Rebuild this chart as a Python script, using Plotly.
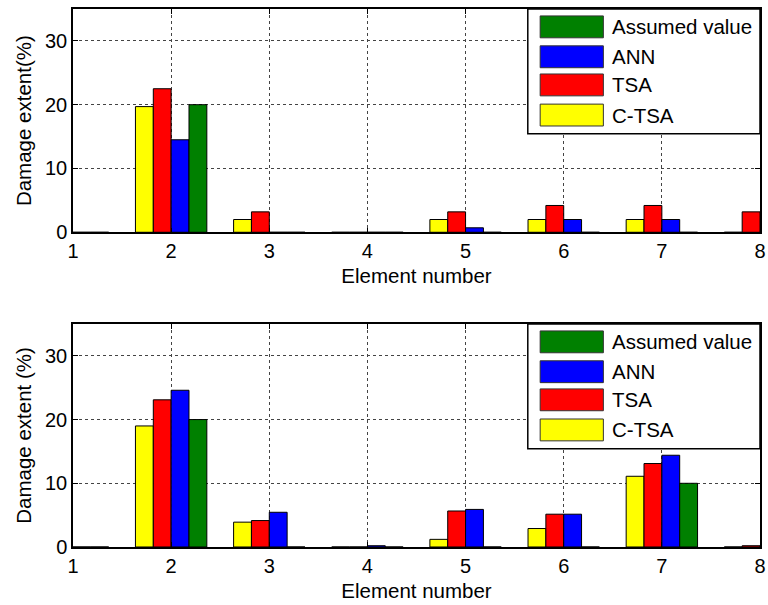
import plotly.graph_objects as go

# Element numbers along the x axis
elements = [1, 2, 3, 4, 5, 6, 7, 8]

# Series names (drawing order within each group) and colours
series_names = ["C-TSA", "TSA", "ANN", "Assumed value"]
series_colors = ["#FFFF00", "#FF0000", "#0000FF", "#008000"]

# Upper panel: damage extent (%) per element
top_ctsa = [0, 19.7, 2.0, 0, 2.0, 2.0, 2.0, 0]
top_tsa = [0, 22.5, 3.2, 0, 3.2, 4.2, 4.2, 3.2]
top_ann = [0, 14.5, 0, 0, 0.7, 2.0, 2.0, 0]
top_assumed = [0, 20, 0, 0, 0, 0, 0, 0]

# Lower panel: damage extent (%) per element
bot_ctsa = [0, 19.0, 3.9, 0, 1.2, 2.9, 11.1, 0]
bot_tsa = [0, 23.1, 4.15, 0, 5.65, 5.15, 13.1, 0.2]
bot_ann = [0, 24.6, 5.45, 0.2, 5.9, 5.15, 14.4, 0]
bot_assumed = [0, 20, 0, 0, 0, 0, 10, 0]

y_ticks = [0, 10, 20, 30]
x_title = "Element number"
y_titles = ["Damage extent(%)", "Damage extent (%)"]

FONT = "Arial, Liberation Sans, Helvetica, sans-serif"
TICK_SIZE = 20
TITLE_SIZE = 20.5
LEGEND_SIZE = 20.5

fig = go.Figure()

panels = [
    ("x", "y", [top_ctsa, top_tsa, top_ann, top_assumed]),
    ("x2", "y2", [bot_ctsa, bot_tsa, bot_ann, bot_assumed]),
]

for xa, ya, data in panels:
    for name, color, vals in zip(series_names, series_colors, data):
        fig.add_trace(go.Bar(
            x=elements, y=vals, name=name, xaxis=xa, yaxis=ya,
            marker=dict(color=color, line=dict(color="#000000", width=1)),
            showlegend=False,
        ))

axis_common = dict(
    showline=True, linecolor="black", linewidth=1.5, mirror="ticks",
    ticks="inside", ticklen=5, tickcolor="black",
    showgrid=True, gridcolor="#444444", griddash="dot", gridwidth=1,
    zeroline=False, automargin=False,
    tickfont=dict(family=FONT, size=TICK_SIZE, color="black"),
)

xaxis_cfg = dict(axis_common, range=[1, 8], tickvals=elements,
                 title=dict(text=x_title, font=dict(family=FONT, size=TITLE_SIZE, color="black"), standoff=8))
yaxis_cfg = dict(axis_common, range=[0, 35], tickvals=y_ticks)

fig.update_layout(
    width=768, height=605,
    margin=dict(l=73, r=8, t=9, b=58),
    paper_bgcolor="white", plot_bgcolor="white",
    barmode="group", bargap=0.2727, bargroupgap=0,
    showlegend=False,
    xaxis=dict(xaxis_cfg, domain=[0, 1], anchor="y"),
    yaxis=dict(yaxis_cfg, domain=[0.585, 1], anchor="x",
               title=dict(text=y_titles[0], font=dict(family=FONT, size=TITLE_SIZE, color="black"), standoff=8)),
    xaxis2=dict(xaxis_cfg, domain=[0, 1], anchor="y2"),
    yaxis2=dict(yaxis_cfg, domain=[0, 0.4145], anchor="x2",
                title=dict(text=y_titles[1], font=dict(family=FONT, size=TITLE_SIZE, color="black"), standoff=8)),
)

# Legend box drawn inside each panel (top-right corner), last series listed first
legend_order = list(range(len(series_names)))[::-1]
row_centers = [0.920, 0.786, 0.660, 0.525]
for xa, ya in [("x", "y"), ("x2", "y2")]:
    xr, yr = f"{xa} domain", f"{ya} domain"
    fig.add_shape(type="rect", xref=xr, yref=yr, x0=0.662, x1=1.0, y0=0.441, y1=1.0,
                  fillcolor="white", line=dict(color="black", width=1.5), layer="above")
    for idx, yc in zip(legend_order, row_centers):
        fig.add_shape(type="rect", xref=xr, yref=yr, x0=0.680, x1=0.772,
                      y0=yc - 0.049, y1=yc + 0.049,
                      fillcolor=series_colors[idx], line=dict(color="#333333", width=1), layer="above")
        fig.add_annotation(xref=xr, yref=yr, x=0.781, y=yc, xanchor="left", yanchor="middle",
                           text=series_names[idx], showarrow=False,
                           font=dict(family=FONT, size=LEGEND_SIZE, color="black"))

fig.write_html("out.html")
